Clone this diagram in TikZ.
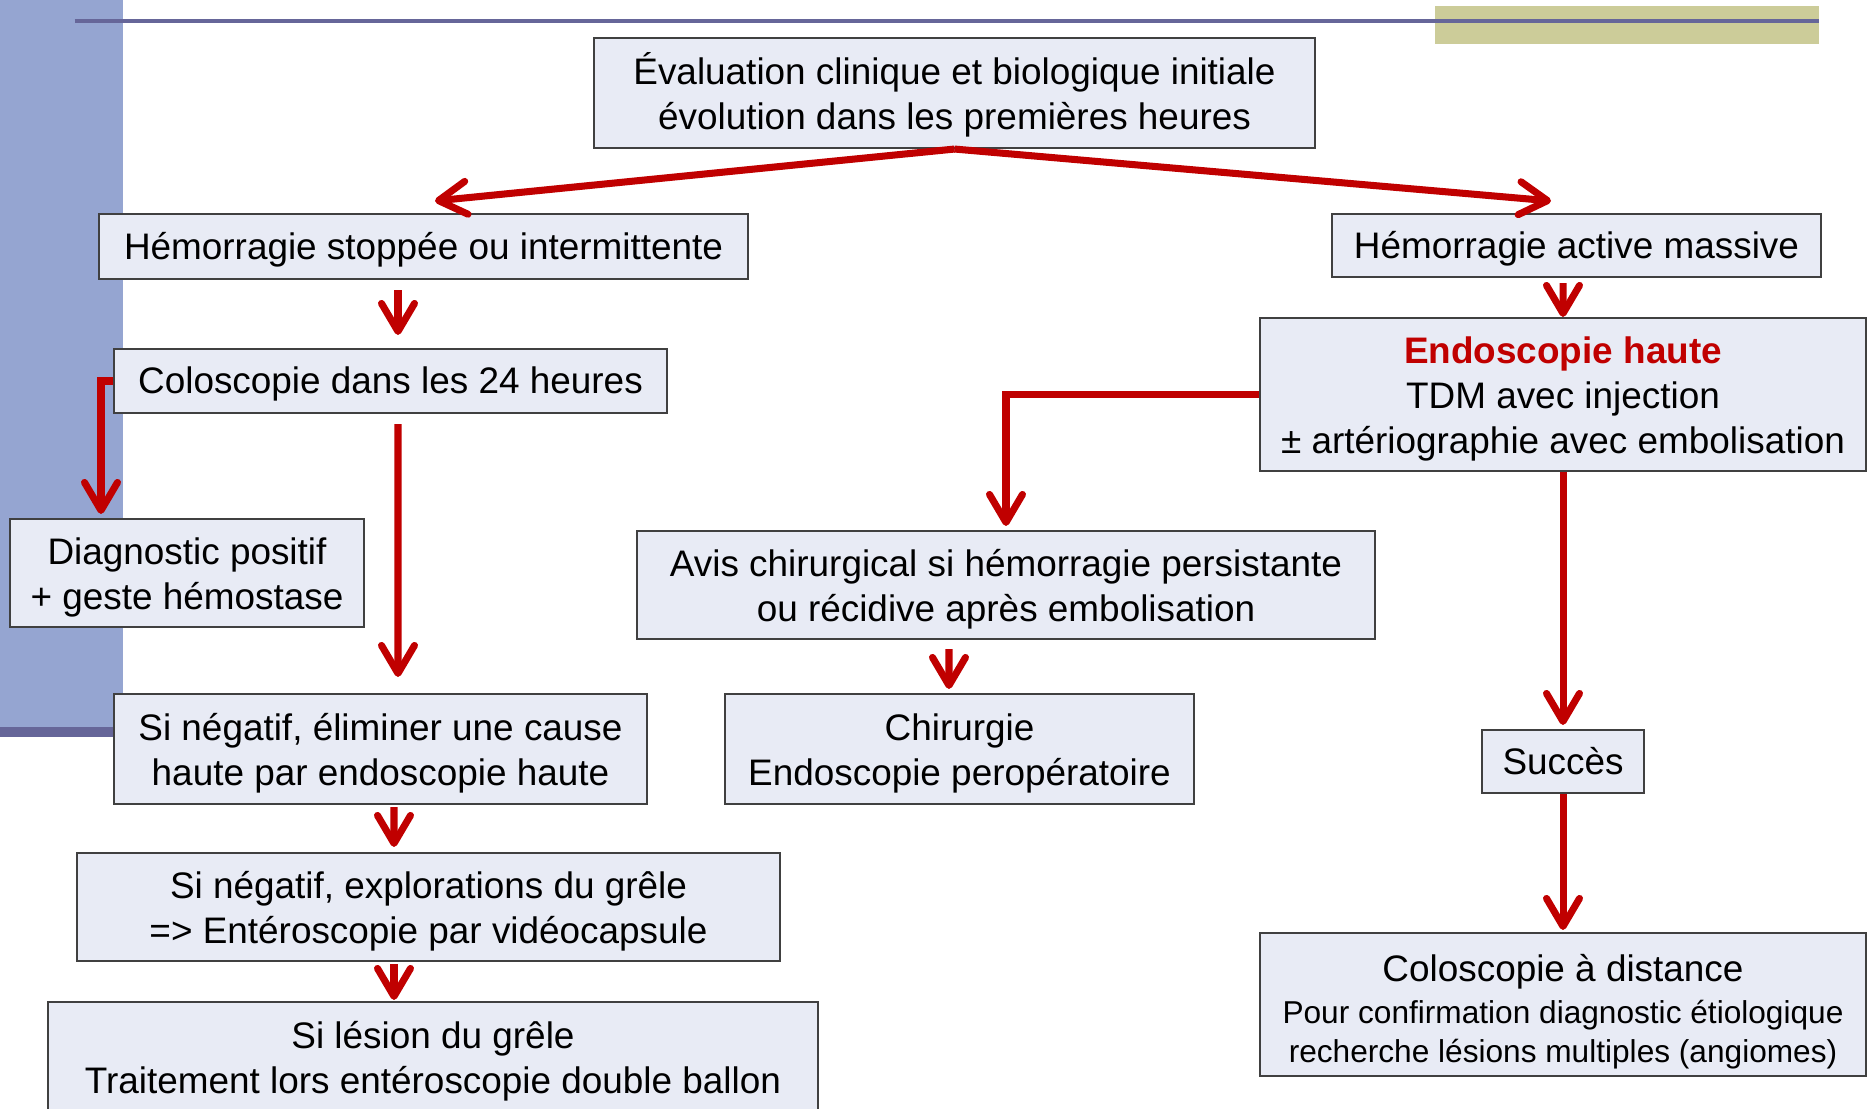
\documentclass[tikz,border=0pt]{standalone}
\usepackage{fontspec}
\setmainfont{Liberation Sans}
\usetikzlibrary{arrows.meta}
\definecolor{BarBlue}{HTML}{95A5D1}
\definecolor{LineSlate}{HTML}{666699}
\definecolor{BarOlive}{HTML}{CCCC99}
\definecolor{BoxFill}{HTML}{E8EBF5}
\definecolor{ArrowRed}{HTML}{C00000}
\newcommand{\boxstrut}{\rule[-0.212em]{0pt}{1.117em}}
\newcommand{\topstrut}{\rule{0pt}{0.975em}}
\newcommand{\smalltext}{\fontsize{9}{10.8}\selectfont}

\begin{document}
\begin{tikzpicture}[
    box/.style={draw=black!75, fill=BoxFill, line width=0.6pt, inner sep=0pt,
      align=center, font=\fontsize{10.5}{12.8}\selectfont,
      execute at begin node=\boxstrut, execute at end node=\boxstrut},
    arr/.style={draw=ArrowRed, line width=2pt,
      -{Straight Barb[length=2.8mm,width=3.3mm,round]}}
  ]
    \useasboundingbox (0,0) rectangle (18.67,11.08);
    % slide decoration
    \fill[BarBlue] (0,3.81) rectangle (1.23,11.08);
    \fill[LineSlate] (0,3.71) rectangle (1.23,3.81);
    \fill[BarOlive] (14.35,10.64) rectangle (18.19,11.02);
    \draw[LineSlate, line width=1pt] (0.745,10.87) -- (18.19,10.87);

    % boxes
    \node[box, minimum width=7.21cm, minimum height=1.10cm] (eval) at (9.545,10.15)
      {\topstrut Évaluation clinique et biologique initiale\\évolution dans les premières heures\boxstrut};
    \node[box, minimum width=6.49cm, minimum height=0.65cm] (stop) at (4.235,8.615)
      {Hémorragie stoppée ou intermittente};
    \node[box, minimum width=4.89cm, minimum height=0.63cm] (massive) at (15.765,8.625)
      {Hémorragie active massive};
    \node[box, minimum width=5.53cm, minimum height=0.64cm] (colo) at (3.905,7.27)
      {Coloscopie dans les 24 heures};
    \node[box, minimum width=6.06cm, minimum height=1.53cm] (endo) at (15.63,7.135)
      {\topstrut\textcolor{ArrowRed}{\bfseries Endoscopie haute}\\TDM avec injection\\± artériographie avec embolisation\boxstrut};
    \node[box, minimum width=3.54cm, minimum height=1.08cm] (diag) at (1.87,5.35)
      {\topstrut Diagnostic positif\\+ geste hémostase\boxstrut};
    \node[box, minimum width=7.38cm, minimum height=1.08cm] (avis) at (10.06,5.23)
      {\topstrut Avis chirurgical si hémorragie persistante\\ou récidive après embolisation\boxstrut};
    \node[box, minimum width=5.33cm, minimum height=1.10cm] (neg) at (3.805,3.59)
      {\topstrut Si négatif, éliminer une cause\\haute par endoscopie haute\boxstrut};
    \node[box, minimum width=4.69cm, minimum height=1.10cm] (chir) at (9.595,3.59)
      {\topstrut Chirurgie\\Endoscopie peropératoire\boxstrut};
    \node[box, minimum width=1.62cm, minimum height=0.63cm] (succ) at (15.63,3.465)
      {Succès};
    \node[box, minimum width=7.03cm, minimum height=1.08cm] (grele) at (4.285,2.01)
      {\topstrut Si négatif, explorations du grêle\\=> Entéroscopie par vidéocapsule\boxstrut};
    \node[box, minimum width=7.70cm, minimum height=1.10cm] (lesion) at (4.33,0.51)
      {\topstrut Si lésion du grêle\\Traitement lors entéroscopie double ballon\boxstrut};
    \node[box, minimum width=6.06cm, minimum height=1.43cm] (dist) at (15.63,1.035)
      {\rule{0pt}{1.17em}Coloscopie à distance\\[-0.03cm]\smalltext Pour confirmation diagnostic étiologique\\[-0.06cm]\smalltext recherche lésions multiples (angiomes)\boxstrut};

    % arrows
    \draw[arr] (eval.south) -- ([shift={(0.115,0.12)}]stop.north);
    \draw[arr] (eval.south) -- ([shift={(-0.255,0.12)}]massive.north);
    \draw[arr] ([shift={(-0.255,-0.10)}]stop.south) -- ([shift={(0.075,0.13)}]colo.north);
    \draw[arr] ([shift={(0.075,-0.10)}]colo.south) -- ([shift={(0.175,0.16)}]neg.north);
    \draw[arr] (colo.west) -| ([shift={(-0.86,0.04)}]diag.north);
    \draw[arr] ([shift={(-0.135,-0.05)}]massive.south) -- (endo.north);
    \draw[arr] (endo.west) -| ([yshift=0.04cm]avis.north);
    \draw[arr] (endo.south) -- ([yshift=0.04cm]succ.north);
    \draw[arr] (succ.south) -- ([yshift=0.02cm]dist.north);
    \draw[arr] ([shift={(-0.57,-0.09)}]avis.south) -- ([shift={(-0.105,0.04)}]chir.north);
    \draw[arr] ([shift={(0.135,-0.02)}]neg.south) -- ([shift={(-0.345,0.05)}]grele.north);
    \draw[arr] ([shift={(-0.345,-0.02)}]grele.south) -- ([shift={(-0.39,0.01)}]lesion.north);
\end{tikzpicture}
\end{document}
